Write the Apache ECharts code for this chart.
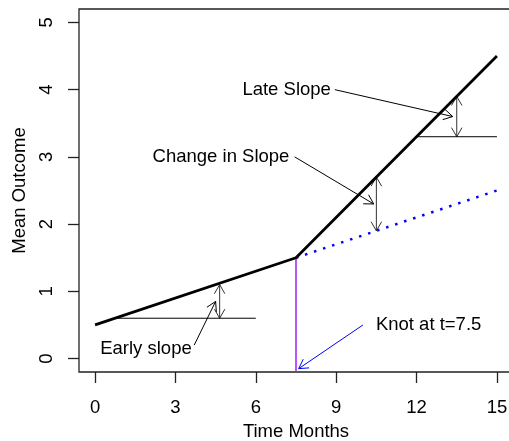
<!DOCTYPE html>
<html>
<head>
<meta charset="utf-8">
<script src="https://cdn.jsdelivr.net/npm/echarts@6/dist/echarts.min.js"></script>
<style>html,body{margin:0;padding:0;background:#fff;}#c{width:509px;height:441px;}</style>
</head>
<body>
<div id="c"></div>
<script>
// ---- data ----
const xTicks = [0, 3, 6, 9, 12, 15];
const yTicks = [0, 1, 2, 3, 4, 5];
const meanLine = [[0, 0.5], [7.5, 1.5], [15, 4.5]];
const earlyTrend = [[7.5, 1.5], [15, 2.5]];
const knotLine = [[7.5, 1.5], [7.5, -0.2]];
const earlyRef = [[0.75, 0.6], [6, 0.6]];
const lateRef = [[12, 3.3], [15, 3.3]];
const doubleArrows = [[4.65, 0.6, 4.65, 1.1], [10.5, 1.9, 10.5, 2.7], [13.5, 3.3, 13.5, 3.9]];
const pointerArrows = [[3.7, 0.2, 4.5, 0.85], [7.45, 3.0, 10.4, 2.3], [8.95, 4.0, 13.35, 3.6]];
const knotArrow = [[10, 0.5, 7.6, -0.15]];
const labelTexts = ['Early slope', 'Change in Slope', 'Late Slope', 'Knot at t=7.5'];
const labelPos = [[1.9, 0.15], [4.7, 3.0], [7.15, 4.0], [12.45, 0.5]];

const FONT = '18.5px "Liberation Sans", Arial, sans-serif';

function arrowRender(both, color) {
  return function (params, api) {
    const p0 = api.coord([api.value(0), api.value(1)]);
    const p1 = api.coord([api.value(2), api.value(3)]);
    const L = 10.5, a = Math.PI / 6;
    const head = function (tip, from) {
      const ang = Math.atan2(from[1] - tip[1], from[0] - tip[0]);
      return {
        type: 'polyline',
        shape: { points: [[tip[0] + L * Math.cos(ang + a), tip[1] + L * Math.sin(ang + a)], tip, [tip[0] + L * Math.cos(ang - a), tip[1] + L * Math.sin(ang - a)]] },
        style: { stroke: color, fill: null, lineWidth: 1 }
      };
    };
    const children = [{ type: 'line', shape: { x1: p0[0], y1: p0[1], x2: p1[0], y2: p1[1] }, style: { stroke: color, lineWidth: 1 } }];
    children.push(head(p1, p0));
    if (both) children.push(head(p0, p1));
    return { type: 'group', children: children };
  };
}

const chart = echarts.init(document.getElementById('c'), null, { renderer: 'canvas' });
chart.setOption({
  animation: false,
  backgroundColor: '#fff',
  grid: { left: 79, top: 9, width: 434, height: 363, containLabel: false, outerBoundsMode: 'none', show: true, borderColor: '#222', borderWidth: 1.3, backgroundColor: 'transparent' },
  xAxis: {
    type: 'value', min: -0.6, max: 15.6,
    name: 'Time Months', nameLocation: 'middle', nameGap: 50,
    nameTextStyle: { fontFamily: 'Liberation Sans', fontSize: 18.5, color: '#000' },
    axisLine: { show: false, onZero: false },
    splitLine: { show: false },
    axisTick: { show: true, inside: false, length: 11, customValues: xTicks, lineStyle: { color: '#222', width: 1.3 } },
    axisLabel: { customValues: xTicks, margin: 26, fontFamily: 'Liberation Sans', fontSize: 18.5, color: '#000' }
  },
  yAxis: {
    type: 'value', min: -0.2, max: 5.2,
    name: 'Mean Outcome', nameLocation: 'middle', nameGap: 50,
    nameTextStyle: { fontFamily: 'Liberation Sans', fontSize: 18.5, color: '#000' },
    axisLine: { show: false, onZero: false },
    splitLine: { show: false },
    axisTick: { show: true, inside: false, length: 11, customValues: yTicks, lineStyle: { color: '#222', width: 1.3 } },
    axisLabel: { customValues: yTicks, rotate: 90, margin: 23, fontFamily: 'Liberation Sans', fontSize: 18.5, color: '#000' }
  },
  series: [
    { type: 'line', data: earlyRef, showSymbol: false, lineStyle: { color: '#000', width: 1 } },
    { type: 'line', data: lateRef, showSymbol: false, lineStyle: { color: '#000', width: 1 } },
    { type: 'line', data: knotLine, showSymbol: false, lineStyle: { color: '#A020F0', width: 1.5 } },
    { type: 'line', data: earlyTrend, showSymbol: false, lineStyle: { color: '#0000FF', width: 2.5, type: [2.5, 7], cap: 'butt' } },
    { type: 'line', data: meanLine, showSymbol: false, lineStyle: { color: '#000', width: 2.8 } },
    { type: 'custom', data: doubleArrows, encode: { x: [0, 2], y: [1, 3] }, renderItem: arrowRender(true, '#333') },
    { type: 'custom', data: pointerArrows, encode: { x: [0, 2], y: [1, 3] }, renderItem: arrowRender(false, '#000') },
    { type: 'custom', data: knotArrow, encode: { x: [0, 2], y: [1, 3] }, renderItem: arrowRender(false, '#0000FF') },
    {
      type: 'custom', data: labelPos.map(function (p, i) { return [p[0], p[1], i]; }), encode: { x: 0, y: 1 },
      renderItem: function (params, api) {
        const p = api.coord([api.value(0), api.value(1)]);
        return { type: 'text', x: p[0], y: p[1], style: { text: labelTexts[api.value(2)], font: FONT, fill: '#000', align: 'center', verticalAlign: 'middle' } };
      }
    }
  ]
});
</script>
</body>
</html>
